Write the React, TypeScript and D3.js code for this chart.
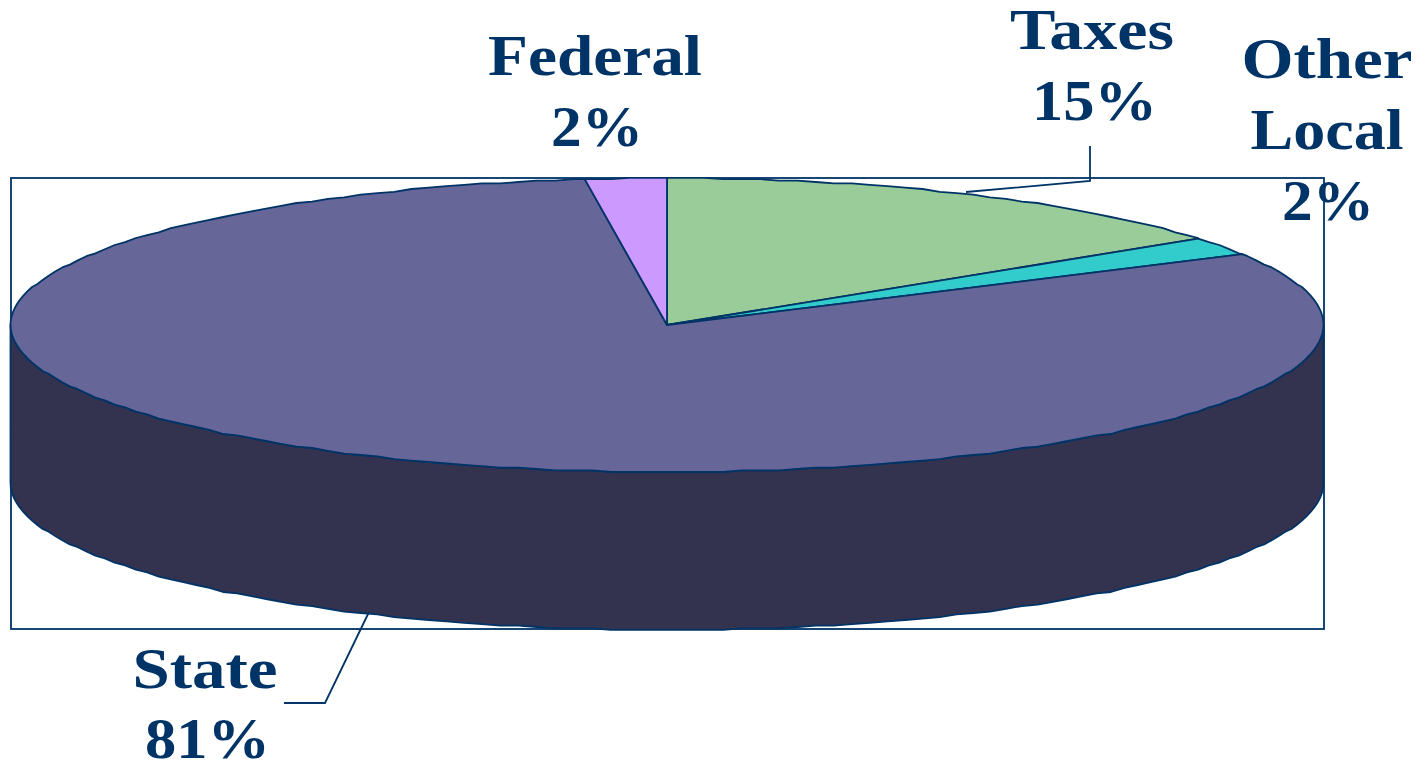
import React from "react";
import * as d3 from "d3";

const categories = ["Taxes", "Other Local", "State", "Federal"];
const values = [15, 2, 81, 2];
const sliceColors = ["#99CC99", "#33CCCC", "#666699", "#CC99FF"];
const sideColor = "#333350";
const ink = "#003366";

const W = 1423, H = 764;
const cx = 667, cy = 325, rx = 656.5, ry = 147, depth = 158;
const box = { x: 11, y: 178, w: 1313, h: 451 };

// unit-circle scales -> pixel positions on the tilted pie top
const sx = d3.scaleLinear().domain([-1, 1]).range([cx - rx, cx + rx]);
const sy = d3.scaleLinear().domain([-1, 1]).range([cy - ry, cy + ry]);

// the reference's outline is a slightly stepped polygon
const STEP = (2 * Math.PI) / 220;
const GRID = 1.4;
const exact = (a: number, dy = 0): [number, number] => [sx(Math.sin(a)), sy(-Math.cos(a)) + dy];
const stepped = (a: number, dy = 0): [number, number] => [
  sx(Math.sin(a)),
  Math.round(sy(-Math.cos(a)) / GRID) * GRID + dy,
];
const arcPts = (a0: number, a1: number, dy = 0) => {
  const k0 = Math.ceil(a0 / STEP), k1 = Math.floor(a1 / STEP);
  const mids = d3.range(k0, k1 + 1).map((k) => stepped(k * STEP, dy));
  return [exact(a0, dy), ...mids, exact(a1, dy)];
};
const line = d3.line();

const arcs = d3.pie<number>().sort(null)(values);

const sidePath = (() => {
  const front = arcPts(Math.PI / 2, (3 * Math.PI) / 2, 0);
  const lower = arcPts(Math.PI / 2, (3 * Math.PI) / 2, depth).reverse();
  return line([...front, ...lower]) + "Z";
})();

const labels = [
  { lines: ["Federal", "2%"], x: [595, 597], y: [75, 146], len: [214, 92] },
  { lines: ["Taxes", "15%"], x: [1092, 1094.5], y: [49, 120], len: [164, 125] },
  { lines: ["Other", "Local", "2%"], x: [1327, 1327, 1328], y: [78, 149, 220], len: [171, 153, 92] },
  { lines: ["State", "81%"], x: [205, 207.5], y: [688, 758], len: [145, 125] },
];
const leaders: [number, number][][] = [
  [[966, 192], [1090, 181], [1090, 146]],
  [[369, 612], [325, 703], [284, 703]],
];

export default function App() {
  return (
    <svg width={W} height={H} style={{ position: "absolute", left: 0, top: 0, display: "block", background: "#fff" }}>
      <rect x={box.x} y={box.y} width={box.w} height={box.h} fill="none" stroke={ink} strokeWidth={1.8} />
      <path d={sidePath} fill={sideColor} stroke={ink} strokeWidth={1.8} strokeLinejoin="round" />
      {arcs.map((d, i) => {
        const pts: [number, number][] = [[cx, cy], ...arcPts(d.startAngle, d.endAngle)];
        return (
          <path key={categories[i]} d={line(pts) + "Z"} fill={sliceColors[i]} stroke={ink} strokeWidth={1.8} strokeLinejoin="round" />
        );
      })}
      {leaders.map((l, i) => (
        <path key={i} d={line(l)!} fill="none" stroke={ink} strokeWidth={1.8} />
      ))}
      {labels.map((l) =>
        l.lines.map((t, j) => (
          <text
            key={l.x[j] + t}
            x={l.x[j]}
            y={l.y[j]}
            textAnchor="middle"
            textLength={l.len[j]}
            lengthAdjust="spacingAndGlyphs"
            fill={ink}
            fontFamily="'Liberation Serif', serif"
            fontWeight="bold"
            fontSize={57}
          >
            {t}
          </text>
        ))
      )}
    </svg>
  );
}
